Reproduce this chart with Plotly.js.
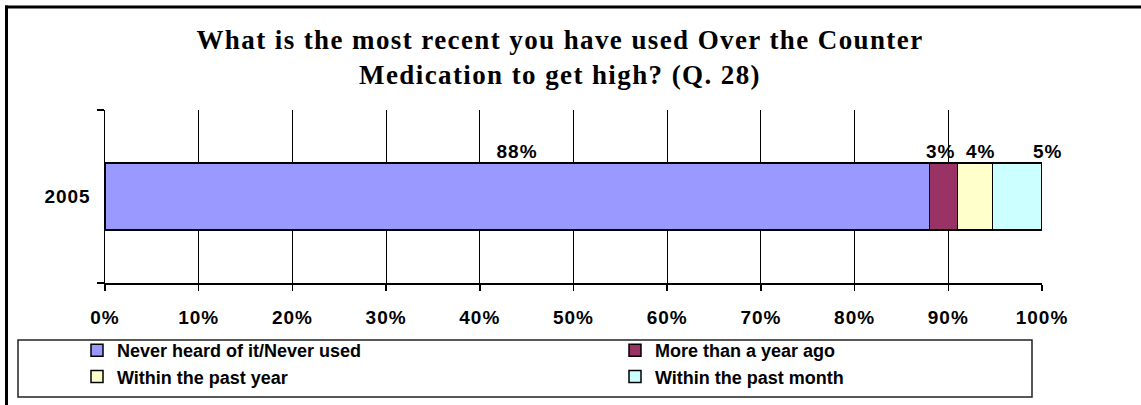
<!DOCTYPE html>
<html>
<head>
<meta charset="utf-8">
<script src="https://cdn.plot.ly/plotly-3.0.1.min.js"></script>
<style>
html,body{margin:0;padding:0;background:#fff;}
#chart{width:1141px;height:405px;}
#chart .gtitle{letter-spacing:1.4px !important;}
#chart .xtick text, #chart .ytick text{letter-spacing:1px !important;}
#chart .annotation-text{letter-spacing:1px !important;}
</style>
</head>
<body>
<div id="chart"></div>
<script>
// ---- data ----
const categories = ['2005'];
const seriesNames = ['Never heard of it/Never used', 'More than a year ago', 'Within the past year', 'Within the past month'];
const seriesValues = [88.0, 3.0, 3.7, 5.3];   // percent
const labelTexts = ['88%', '3%', '4%', '5%'];
const titleText = 'What is the most recent you have used Over the Counter<br>Medication to get high? (Q. 28)';

// ---- styles ----
const colors = ['#9999FF', '#993366', '#FFFFCC', '#CCFFFF'];
const legendOf = ['legend', 'legend2', 'legend', 'legend2'];
const labelShift = [0, -3, 6, 31];
const barWidth = 0.387;
const sansBold = {family: 'Liberation Sans, Arial, sans-serif', size: 19, color: '#000', weight: 'bold'};
const legendFont = {family: 'Liberation Sans, Arial, sans-serif', size: 18, color: '#000', weight: 'bold'};

const W = 1141, H = 405;
const M = {l: 105, r: 99, t: 110, b: 122};
const pw = W - M.l - M.r, ph = H - M.t - M.b;
const px = v => (v - M.l) / pw;
const py = v => (H - M.b - v) / ph;

const traces = seriesNames.map((name, i) => ({
  type: 'bar',
  orientation: 'h',
  name: name,
  y: categories,
  x: [seriesValues[i] / 100],
  width: barWidth,
  legend: legendOf[i],
  marker: {color: colors[i], line: {color: '#000', width: 1.5}},
  hoverinfo: 'name+x'
}));

let cum = 0;
const annotations = seriesValues.map((v, i) => {
  const center = (cum + v / 2) / 100;
  cum += v;
  return {
    xref: 'x', yref: 'y', x: center, y: barWidth / 2,
    xanchor: 'center', yanchor: 'bottom', yshift: -1, xshift: labelShift[i],
    text: labelTexts[i], showarrow: false, font: sansBold
  };
});

const shapes = [
  // outer frame: top and left
  {type: 'line', xref: 'paper', yref: 'paper', x0: px(5), x1: px(1141), y0: py(7), y1: py(7), line: {color: '#000', width: 3}},
  {type: 'line', xref: 'paper', yref: 'paper', x0: px(6.5), x1: px(6.5), y0: py(5.5), y1: py(405), line: {color: '#000', width: 3}},
  // legend box
  {type: 'rect', xref: 'paper', yref: 'paper', x0: px(18), x1: px(1032), y0: py(397), y1: py(340), line: {color: '#222', width: 1.5}, fillcolor: 'rgba(0,0,0,0)'}
];

const legendBase = {
  orientation: 'v', traceorder: 'normal', itemwidth: 30,
  xanchor: 'left', yanchor: 'top', tracegroupgap: 0,
  font: legendFont, bgcolor: 'rgba(0,0,0,0)', borderwidth: 0
};

const layout = {
  width: W, height: H,
  margin: {l: M.l, r: M.r, t: M.t, b: M.b, pad: 0, autoexpand: false},
  paper_bgcolor: '#fff', plot_bgcolor: '#fff',
  barmode: 'stack',
  showlegend: true,
  title: {
    text: titleText,
    font: {family: 'Liberation Serif, Times New Roman, serif', size: 27, color: '#000', weight: 'bold'},
    xref: 'container', x: 560 / W, xanchor: 'center',
    yref: 'container', y: 1 - 49 / H, yanchor: 'top'
  },
  xaxis: {
    range: [0, 1], tickformat: '.0%', dtick: 0.1, tick0: 0,
    showgrid: true, gridcolor: '#000', gridwidth: 1,
    zeroline: false,
    showline: true, linecolor: '#000', linewidth: 1.5,
    ticks: 'outside', ticklen: 6, tickcolor: '#000', tickwidth: 1.5,
    ticklabelstandoff: 11,
    tickfont: sansBold, automargin: false, fixedrange: true
  },
  yaxis: {
    type: 'category', range: [-0.5, 0.5],
    tickson: 'boundaries',
    showgrid: false, zeroline: false,
    showline: true, linecolor: '#000', linewidth: 1.5,
    ticks: 'outside', ticklen: 7, tickcolor: '#000', tickwidth: 1.5,
    ticklabelstandoff: 9,
    tickfont: sansBold, automargin: false, fixedrange: true
  },
  legend: Object.assign({}, legendBase, {x: px(77), y: py(332)}),
  legend2: Object.assign({}, legendBase, {x: px(615), y: py(332)}),
  annotations: annotations,
  shapes: shapes
};

Plotly.newPlot('chart', traces, layout, {displayModeBar: false, staticPlot: true});
</script>
</body>
</html>
